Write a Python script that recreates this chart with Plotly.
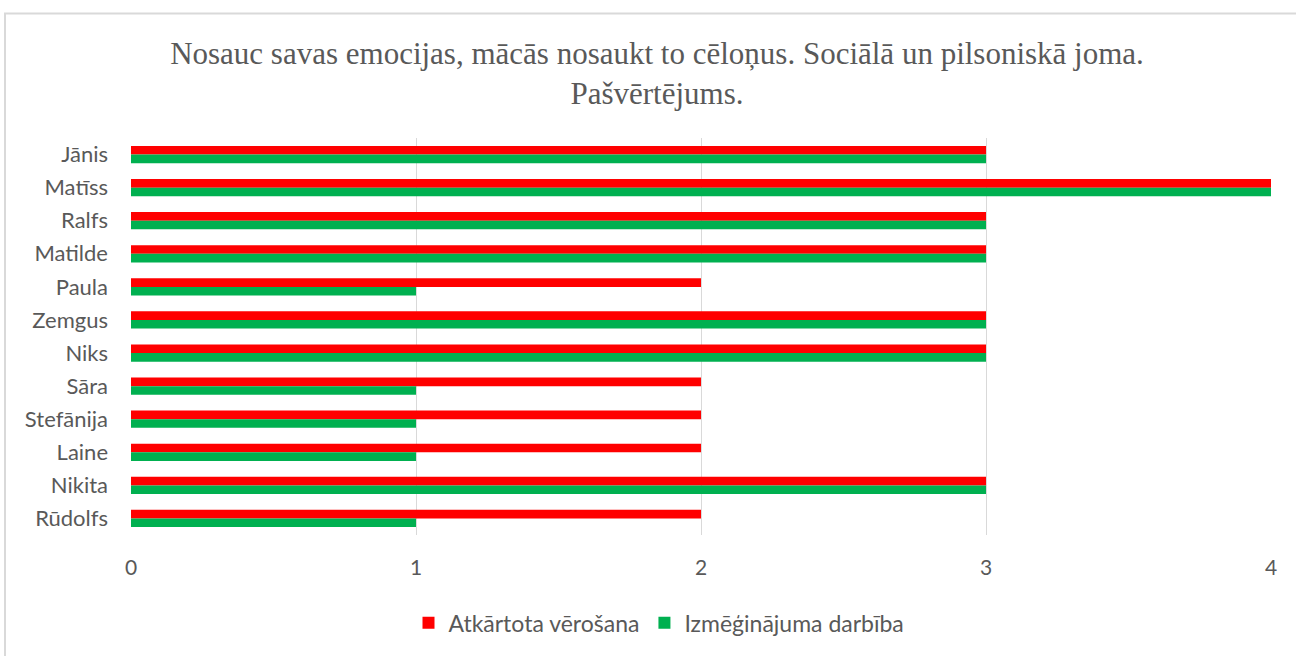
import plotly.graph_objects as go

names = ["Jānis", "Matīss", "Ralfs", "Matilde", "Paula", "Zemgus", "Niks",
         "Sāra", "Stefānija", "Laine", "Nikita", "Rūdolfs"]
atkartota = [3, 4, 3, 3, 2, 3, 3, 2, 2, 2, 3, 2]
izmeginajuma = [3, 4, 3, 3, 1, 3, 3, 1, 1, 1, 3, 1]
series_names = ["Atkārtota vērošana", "Izmēģinājuma darbība"]
x_ticks = [0, 1, 2, 3, 4]

fig = go.Figure()
fig.add_trace(go.Bar(y=names, x=atkartota, orientation="h", name=series_names[0],
                     marker=dict(color="#FF0000", line=dict(width=0))))
fig.add_trace(go.Bar(y=names, x=izmeginajuma, orientation="h", name=series_names[1],
                     marker=dict(color="#00B050", line=dict(width=0))))

font_sans = "Lato, 'Open Sans', sans-serif"
fig.update_layout(
    width=1296, height=656,
    margin=dict(l=131, r=25, t=138, b=116),
    paper_bgcolor="white", plot_bgcolor="white",
    barmode="group", bargap=0.48, bargroupgap=0,
    title=dict(text="Nosauc savas emocijas, mācās nosaukt to cēloņus. Sociālā un pilsoniskā joma.<br>Pašvērtējums.",
               x=657 / 1296, xanchor="center", y=1 - 64 / 656, yanchor="middle",
               font=dict(family="'Liberation Serif', 'DejaVu Serif', serif", size=31, color="#595959")),
    xaxis=dict(range=[0, 4], tickvals=x_ticks, showgrid=True, gridcolor="#D9D9D9", gridwidth=1,
               zeroline=False, showline=False, ticks="", ticklabelstandoff=18,
               tickfont=dict(family=font_sans, size=21, color="#595959")),
    yaxis=dict(autorange="reversed", showgrid=False, zeroline=False, showline=False, ticks="",
               ticklabelstandoff=22, tickfont=dict(family=font_sans, size=22, color="#595959")),
    legend=dict(orientation="h", x=(659 - 131) / 1140, xanchor="center",
                y=(540 - 629) / 402, yanchor="middle", traceorder="normal",
                font=dict(family=font_sans, size=23, color="#595959"), itemwidth=30),
    showlegend=True,
    shapes=[dict(type="rect", xref="paper", yref="paper",
                 x0=(5 - 131) / 1140, x1=(1320 - 131) / 1140,
                 y0=(540 - 700) / 402, y1=(540 - 12) / 402,
                 line=dict(color="#D9D9D9", width=2), fillcolor="rgba(0,0,0,0)", layer="below")],
)
fig.write_html("out.html", config={"displayModeBar": False},
               post_script="document.body.style.margin='0';document.body.style.overflow='hidden';")
